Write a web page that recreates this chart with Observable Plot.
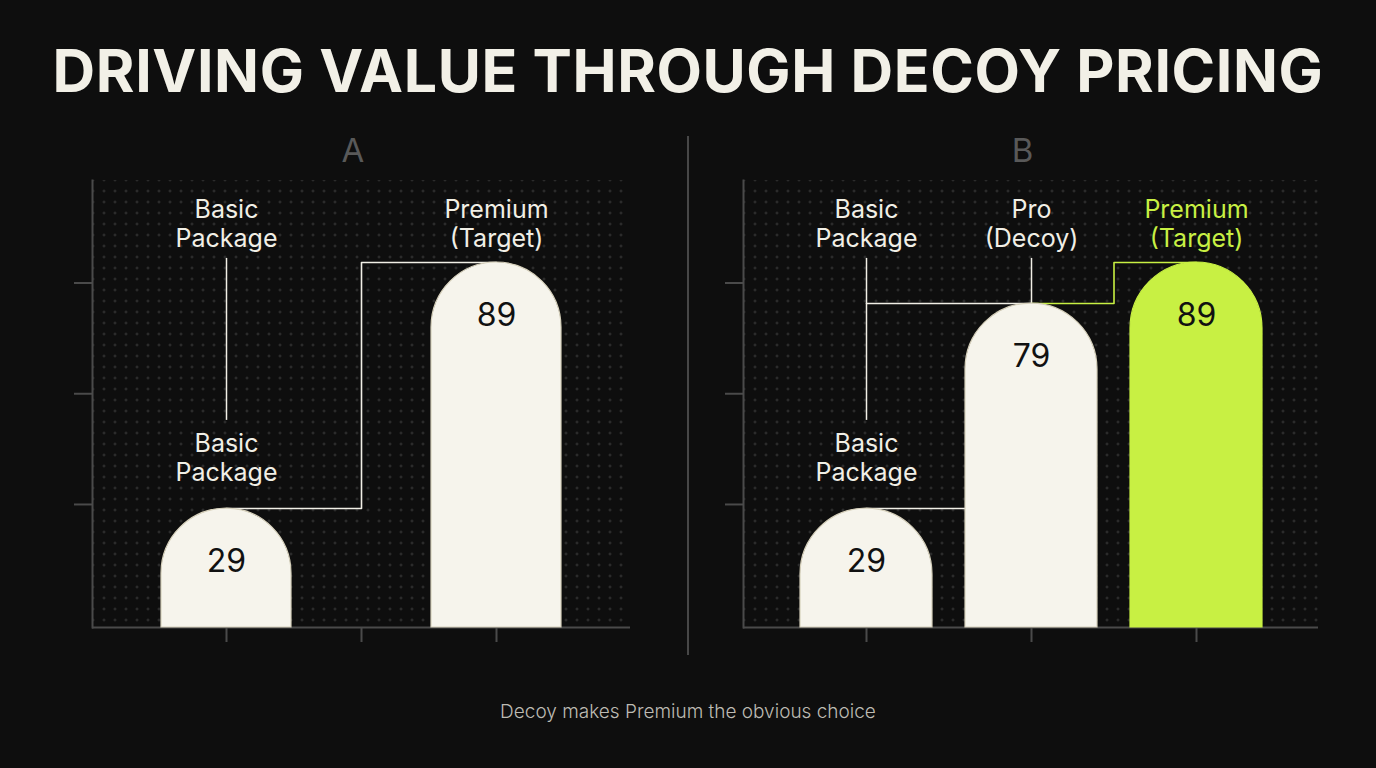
<!DOCTYPE html>
<html>
<head>
<meta charset="utf-8">
<script src="https://cdn.jsdelivr.net/npm/d3@7"></script>
<script src="https://cdn.jsdelivr.net/npm/@observablehq/plot@0.6"></script>
<style>
  html, body { margin: 0; padding: 0; background: #0e0e0e; width: 1376px; height: 768px; overflow: hidden; font-family: Inter, "Noto Sans", sans-serif; }
  #title { position: absolute; left: 0; top: 41px; width: 1376px; text-align: center; color: #f2f0e7; font-weight: 700; font-size: 59px; line-height: 60px; letter-spacing: 0.6px; margin: 0; }
  #caption { position: absolute; left: 0; top: 701px; width: 1376px; text-align: center; color: #bdbbb3; font-size: 19px; line-height: 22px; font-weight: 300; }
  .letter { position: absolute; top: 132px; width: 100px; text-align: center; color: #595959; font-size: 33px; line-height: 36px; font-weight: 400; }
  .dots { position: absolute; background-image: radial-gradient(circle, #3c3c3c 0.9px, rgba(0,0,0,0) 1.3px); background-size: 11px 11px; background-position: 6.5px -5.5px; }
  .panel { position: absolute; top: 130px; }
  .panel svg { background: transparent !important; display: block; }
  #divider { position: absolute; left: 687px; top: 136px; width: 2px; height: 519px; background: #474747; }
</style>
</head>
<body>
<div id="title"></div>
<div id="dotsA" class="dots"></div>
<div id="dotsB" class="dots"></div>
<div id="letterA" class="letter"></div>
<div id="letterB" class="letter"></div>
<div id="panelA" class="panel" style="left:0px"></div>
<div id="panelB" class="panel" style="left:688px"></div>
<div id="divider"></div>
<div id="caption"></div>
<script>
// ---------- data ----------
const title = "DRIVING VALUE THROUGH DECOY PRICING";
const caption = "Decoy makes Premium the obvious choice";
const panelNames = ["A", "B"];
const slots = ["Basic", "Pro", "Premium"];
const tierNames = ["Basic\nPackage", "Pro\n(Decoy)", "Premium\n(Target)"];
const pricesA = [29, null, 89];
const pricesB = [29, 79, 89];
const targetTier = "Premium";
const yTicks = [30, 57, 84];

// ---------- layout / style constants ----------
const CREAM = "#f6f4ec", EDGE = "#d6d0bb", GREEN = "#c8f043", TEXT = "#f1efe6", AXIS = "#4a4a4a";
const labelRuleTop = 90, labelRuleBottom = 50.5, lowerLabelY = 41.5;
const W = 688, H = 530, MT = 50, MB = 33;
const yDomain = [0, 109];

document.getElementById("title").textContent = title;
document.getElementById("caption").textContent = caption;

function rowsOf(prices, highlight) {
  return slots.map((s, i) => ({slot: s, name: tierNames[i], price: prices[i],
    fill: highlight && s === targetTier ? GREEN : CREAM,
    text: highlight && s === targetTier ? GREEN : TEXT,
    edge: highlight && s === targetTier ? GREEN : EDGE}));
}

function makePanel({prices, highlight, ml, mr, padIn, padOut, extra}) {
  const rows = rowsOf(prices, highlight).filter(d => d.price != null);
  const basic = rows.find(d => d.slot === "Basic");
  return Plot.plot({
    width: W, height: H,
    marginLeft: ml, marginRight: mr, marginTop: MT, marginBottom: MB,
    style: {background: "transparent", fontFamily: "Inter, 'Noto Sans', sans-serif"},
    x: {domain: slots, paddingInner: padIn, paddingOuter: padOut, axis: null, label: null},
    y: {domain: yDomain, axis: null, label: null},
    marks: [
      Plot.frame({anchor: "left", stroke: AXIS, strokeWidth: 2}),
      Plot.ruleY([0], {stroke: AXIS, strokeWidth: 2}),
      Plot.axisY(yTicks, {tickSize: 18, tickFormat: () => "", label: null, stroke: AXIS, strokeWidth: 2}),
      Plot.axisX(slots, {tickSize: 15, tickFormat: () => "", label: null, stroke: AXIS, strokeWidth: 2}),
      // leader rule under the top Basic label
      Plot.ruleX([basic], {x: "slot", y1: labelRuleBottom, y2: labelRuleTop, stroke: TEXT, strokeWidth: 1.5}),
      ...extra(rows),
      // bars with rounded tops
      Plot.barY(rows, {x: "slot", y: "price", fill: "fill", stroke: "edge", strokeWidth: 1.2, ry1: 100}),
      Plot.text(rows, {x: "slot", y: "price", text: d => String(d.price), dy: 53, fontSize: 32, fill: "#111111"}),
      // top labels
      Plot.text(rows, {x: "slot", text: "name", fill: "text", frameAnchor: "top", lineAnchor: "top", dy: 17, fontSize: 25, lineHeight: 1.15}),
      // lower Basic label
      Plot.text([basic], {x: "slot", y: () => lowerLabelY, text: "name", fill: TEXT, fontSize: 25, lineHeight: 1.15, lineAnchor: "middle"})
    ]
  });
}

const val = (prices, s) => prices[slots.indexOf(s)];

const plotA = makePanel({
  prices: pricesA, highlight: false, ml: 92, mr: 58, padIn: 0.04, padOut: 0.5,
  extra: () => [
    Plot.line([{slot: "Basic", v: val(pricesA, "Basic")}, {slot: "Premium", v: val(pricesA, "Premium")}],
      {x: "slot", y: "v", curve: "step", stroke: TEXT, strokeWidth: 1.6})
  ]
});

const plotB = makePanel({
  prices: pricesB, highlight: true, ml: 55, mr: 58, padIn: 0.2, padOut: 0.34,
  extra: () => [
    Plot.ruleX([{slot: "Pro", v: val(pricesB, "Pro")}], {x: "slot", y1: "v", y2: () => labelRuleTop, stroke: TEXT, strokeWidth: 1.5}),
    Plot.line([{slot: "Basic", v: val(pricesB, "Pro")}, {slot: "Pro", v: val(pricesB, "Pro")}],
      {x: "slot", y: "v", stroke: TEXT, strokeWidth: 1.6}),
    Plot.line([{slot: "Basic", v: val(pricesB, "Basic")}, {slot: "Pro", v: val(pricesB, "Basic")}],
      {x: "slot", y: "v", stroke: TEXT, strokeWidth: 1.6}),
    Plot.line([{slot: "Pro", v: val(pricesB, "Pro")}, {slot: "Premium", v: val(pricesB, "Premium")}],
      {x: "slot", y: "v", curve: "step", stroke: GREEN, strokeWidth: 1.6})
  ]
});

document.getElementById("panelA").appendChild(plotA);
document.getElementById("panelB").appendChild(plotB);

// dotted backgrounds and panel letters, placed from the plots' own layout
function place(idDots, idLetter, left, ml, mr, name) {
  const d = document.getElementById(idDots);
  d.style.left = (left + ml) + "px";
  d.style.top = (130 + MT) + "px";
  d.style.width = (W - ml - mr) + "px";
  d.style.height = (H - MT - MB) + "px";
  const l = document.getElementById(idLetter);
  l.textContent = name;
  l.style.left = (left + ml + (W - ml - mr) / 2 - 58) + "px";
}
place("dotsA", "letterA", 0, 92, 58, panelNames[0]);
place("dotsB", "letterB", 688, 55, 58, panelNames[1]);
</script>
</body>
</html>
